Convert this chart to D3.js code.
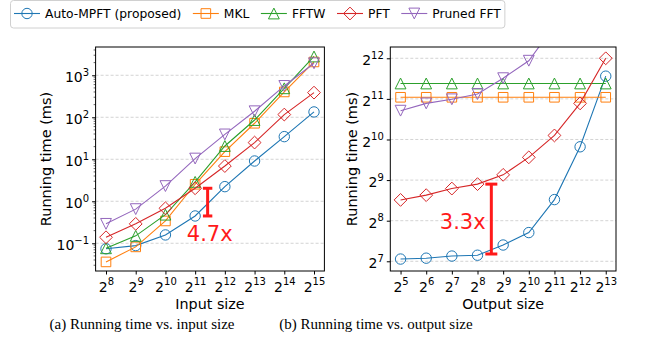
<!DOCTYPE html>
<html lang="en">
<head>
<meta charset="UTF-8" />
<title>Running time</title>
<script src="https://d3js.org/d3.v7.min.js"></script>
<style>
  body { margin: 0; background: #fff; }
  svg text { font-family: "DejaVu Sans", sans-serif; }
</style>
</head>
<body>
<div id="chart"></div>
<script>
    // ---- data (running time in ms) ----
    var seriesNames = ["Auto-MPFT (proposed)", "MKL", "FFTW", "PFT", "Pruned FFT"];
    var seriesColors = ["#1f77b4", "#ff7f0e", "#2ca02c", "#d62728", "#9467bd"];
    var seriesMarkers = ["circle", "square", "triUp", "diamond", "triDown"];

    var inputSizes = [256, 512, 1024, 2048, 4096, 8192, 16384, 32768];
    var inputTickExps = [8, 9, 10, 11, 12, 13, 14, 15];
    var autoByInput = [0.074, 0.088, 0.158, 0.447, 2.23, 9.1, 34.6, 134];
    var mklByInput = [0.036, 0.082, 0.34, 2.54, 15.2, 72, 401, 2076];
    var fftwByInput = [0.076, 0.15, 0.48, 2.9, 20.7, 86, 490, 2800];
    var pftByInput = [0.139, 0.29, 0.68, 2.04, 6.9, 25, 116, 386];
    var prunedByInput = [0.29, 0.65, 2.3, 10.4, 39, 139, 557, 1930];
    var inputYTickExps = [-1, 0, 1, 2, 3];

    var outputSizes = [32, 64, 128, 256, 512, 1024, 2048, 4096, 8192];
    var outputTickExps = [5, 6, 7, 8, 9, 10, 11, 12, 13];
    var autoByOutput = [133, 135, 140, 142, 169, 209, 367, 904, 3019];
    var mklByOutput = [2105, 2105, 2105, 2105, 2105, 2105, 2105, 2105, 2105];
    var fftwByOutput = [2665, 2665, 2665, 2665, 2665, 2665, 2665, 2665, 2665];
    var pftByOutput = [365, 396, 443, 478, 560, 755, 1097, 1897, 4096];
    var prunedByOutput = [1675, 1897, 2034, 2226, 2916, 3929, 7131];
    var outputYTickExps = [7, 8, 9, 10, 11, 12];

    // speed-up annotations
    var noteInput = { x: 2740, lo: 0.447, hi: 2.04, tx: 1687, ty: 0.115, text: "4.7x" };
    var noteOutput = { x: 372, lo: 145, hi: 478, tx: 92.4, ty: 224, text: "3.3x" };

    var w = 667;
    var h = 352;

    var svg = d3.select("#chart")
        .append("svg")
        .attr("width", w)
        .attr("height", h);

    // marker path centred on 0,0
    function markerPath(type) {
        var p = d3.path();
        if (type === "circle") {
            p.arc(0, 0, 5.2, 0, 2 * Math.PI);
        } else if (type === "square") {
            p.rect(-4.8, -4.8, 9.6, 9.6);
        } else if (type === "diamond") {
            p.moveTo(0, -6.4); p.lineTo(6.4, 0); p.lineTo(0, 6.4); p.lineTo(-6.4, 0); p.closePath();
        } else if (type === "triUp") {
            p.moveTo(0, -5.4); p.lineTo(5.4, 5.4); p.lineTo(-5.4, 5.4); p.closePath();
        } else {
            p.moveTo(0, 5.4); p.lineTo(5.4, -5.4); p.lineTo(-5.4, -5.4); p.closePath();
        }
        return p.toString();
    }

    function powerLabel(sel, base, exp) {
        sel.text(null);
        sel.append("tspan").text(base);
        sel.append("tspan")
            .attr("dy", "-0.65em")
            .style("font-size", "10px")
            .text(exp < 0 ? "\u2212" + (-exp) : exp);
    }

    function drawPanel(opt) {
        var x = d3.scaleLog().base(2).domain(opt.xDomain).range([opt.left, opt.right]);
        var y = d3.scaleLog().base(opt.yBase).domain(opt.yDomain).range([opt.bottom, opt.top]);
        var g = svg.append("g");

        var clipId = "clip" + opt.id;
        svg.append("clipPath").attr("id", clipId)
            .append("rect")
            .attr("x", opt.left).attr("y", opt.top)
            .attr("width", opt.right - opt.left).attr("height", opt.bottom - opt.top);

        // grid
        g.selectAll(".grid")
            .data(opt.yTicks)
            .enter()
            .append("line")
            .attr("x1", opt.left).attr("x2", opt.right)
            .attr("y1", function (d) { return y(Math.pow(opt.yBase, d)); })
            .attr("y2", function (d) { return y(Math.pow(opt.yBase, d)); })
            .style("stroke", "#c8c8c8")
            .style("stroke-width", 0.8)
            .style("stroke-dasharray", "3,2");

        // axes
        var xAxis = d3.axisBottom(x)
            .tickValues(opt.xTicks.map(function (e) { return Math.pow(2, e); }))
            .tickSize(3.5).tickPadding(3);
        var gx = g.append("g")
            .attr("transform", "translate(0," + opt.bottom + ")")
            .call(xAxis);
        gx.select(".domain").remove();
        gx.selectAll("text")
            .style("font-size", "14px")
            .attr("dy", "1.02em")
            .each(function (d, i) { powerLabel(d3.select(this), "2", opt.xTicks[i]); });

        var yAxis = d3.axisLeft(y)
            .tickValues(opt.yTicks.map(function (e) { return Math.pow(opt.yBase, e); }))
            .tickSize(3.5).tickPadding(3);
        var gy = g.append("g")
            .attr("transform", "translate(" + opt.left + ",0)")
            .call(yAxis);
        gy.select(".domain").remove();
        gy.selectAll("text")
            .style("font-size", "14px")
            .attr("dy", "0.47em")
            .each(function (d, i) { powerLabel(d3.select(this), String(opt.yBase), opt.yTicks[i]); });
        gy.selectAll("line").style("stroke", "#000");
        gx.selectAll("line").style("stroke", "#000");

        if (opt.minor) {
            var minors = [];
            for (var e = Math.floor(Math.log10(opt.yDomain[0])); e <= Math.ceil(Math.log10(opt.yDomain[1])); e++) {
                for (var k = 2; k < 10; k++) {
                    var v = k * Math.pow(10, e);
                    if (v > opt.yDomain[0] && v < opt.yDomain[1]) minors.push(v);
                }
            }
            g.selectAll(".minor")
                .data(minors)
                .enter()
                .append("line")
                .attr("x1", opt.left - 2).attr("x2", opt.left)
                .attr("y1", function (d) { return y(d); })
                .attr("y2", function (d) { return y(d); })
                .style("stroke", "#000")
                .style("stroke-width", 0.6);
        }

        // lines and markers
        var line = d3.line()
            .x(function (d) { return x(d[0]); })
            .y(function (d) { return y(d[1]); });

        var plot = g.append("g").attr("clip-path", "url(#" + clipId + ")");
        opt.series.forEach(function (vals, si) {
            var pts = vals.map(function (v, i) { return [opt.sizes[i], v]; });
            plot.append("path")
                .attr("d", line(pts))
                .style("fill", "none")
                .style("stroke", seriesColors[si])
                .style("stroke-width", 1.1);
            plot.selectAll(".m" + si)
                .data(pts)
                .enter()
                .append("path")
                .attr("d", markerPath(seriesMarkers[si]))
                .attr("transform", function (d) { return "translate(" + x(d[0]) + "," + y(d[1]) + ")"; })
                .style("fill", "none")
                .style("stroke", seriesColors[si])
                .style("stroke-width", 1);
        });

        // frame
        g.append("rect")
            .attr("x", opt.left).attr("y", opt.top)
            .attr("width", opt.right - opt.left).attr("height", opt.bottom - opt.top)
            .style("fill", "none")
            .style("stroke", "#000")
            .style("stroke-width", 1);

        // speed-up bar
        var n = opt.note;
        var bx = x(n.x);
        g.append("line")
            .attr("x1", bx).attr("x2", bx)
            .attr("y1", y(n.lo)).attr("y2", y(n.hi))
            .style("stroke", "#ff1a1a").style("stroke-width", 3);
        [n.lo, n.hi].forEach(function (v) {
            g.append("line")
                .attr("x1", bx - opt.cap).attr("x2", bx + opt.cap)
                .attr("y1", y(v)).attr("y2", y(v))
                .style("stroke", "#ff1a1a").style("stroke-width", 3);
        });
        g.append("text")
            .attr("x", x(n.tx)).attr("y", y(n.ty))
            .style("font-size", "21px")
            .style("fill", "#ff1a1a")
            .text(n.text);

        // axis labels
        g.append("text")
            .attr("x", (opt.left + opt.right) / 2)
            .attr("y", 308.5)
            .attr("text-anchor", "middle")
            .style("font-size", "14.3px")
            .text(opt.xLabel);
        g.append("text")
            .attr("transform", "translate(" + opt.yLabelX + "," + (opt.top + opt.bottom) / 2 + ") rotate(-90)")
            .attr("text-anchor", "middle")
            .style("font-size", "14.5px")
            .text("Running time (ms)");

        // caption
        g.append("text")
            .attr("x", opt.capX)
            .attr("y", 329)
            .attr("text-anchor", "middle")
            .style("font-family", "'Liberation Serif', serif")
            .style("font-size", "15px")
            .text(opt.caption);
    }

    drawPanel({
        id: "a", left: 95.6, right: 324.4, top: 47, bottom: 271,
        xDomain: [Math.pow(2, 7.65), Math.pow(2, 15.35)],
        yBase: 10, yDomain: [Math.pow(10, -1.66), Math.pow(10, 3.673)],
        xTicks: inputTickExps, yTicks: inputYTickExps, minor: true,
        sizes: inputSizes,
        series: [autoByInput, mklByInput, fftwByInput, pftByInput, prunedByInput],
        note: noteInput, cap: 4.7,
        xLabel: "Input size", yLabelX: 51,
        caption: "(a)  Running time vs. input size", capX: 142
    });

    drawPanel({
        id: "b", left: 390.3, right: 616, top: 47, bottom: 271,
        xDomain: [Math.pow(2, 4.6), Math.pow(2, 13.4)],
        yBase: 2, yDomain: [Math.pow(2, 6.761), Math.pow(2, 12.278)],
        xTicks: outputTickExps, yTicks: outputYTickExps, minor: false,
        sizes: outputSizes,
        series: [autoByOutput, mklByOutput, fftwByOutput, pftByOutput, prunedByOutput],
        note: noteOutput, cap: 6,
        xLabel: "Output size", yLabelX: 357,
        caption: "(b)  Running time vs. output size", capX: 376
    });

    // legend
    var legend = svg.append("g");
    var box = legend.append("rect")
        .attr("x", 10.5).attr("y", 0.5)
        .attr("height", 27.5)
        .attr("rx", 3)
        .style("fill", "#fff")
        .style("stroke", "#d0d0d0")
        .style("stroke-width", 1);
    var lx = 14;
    seriesNames.forEach(function (name, i) {
        legend.append("line")
            .attr("x1", lx).attr("x2", lx + 26)
            .attr("y1", 13.5).attr("y2", 13.5)
            .style("stroke", seriesColors[i]).style("stroke-width", 1.1);
        legend.append("path")
            .attr("d", markerPath(seriesMarkers[i]))
            .attr("transform", "translate(" + (lx + 13) + ",13.5)")
            .style("fill", "none")
            .style("stroke", seriesColors[i]);
        var t = legend.append("text")
            .attr("x", lx + 31).attr("y", 18)
            .style("font-size", "12.3px")
            .text(name);
        lx = lx + 31 + t.node().getComputedTextLength() + 11.5;
    });
    box.attr("width", lx - 11.5 + 4 - 10.5);
</script>
</body>
</html>
